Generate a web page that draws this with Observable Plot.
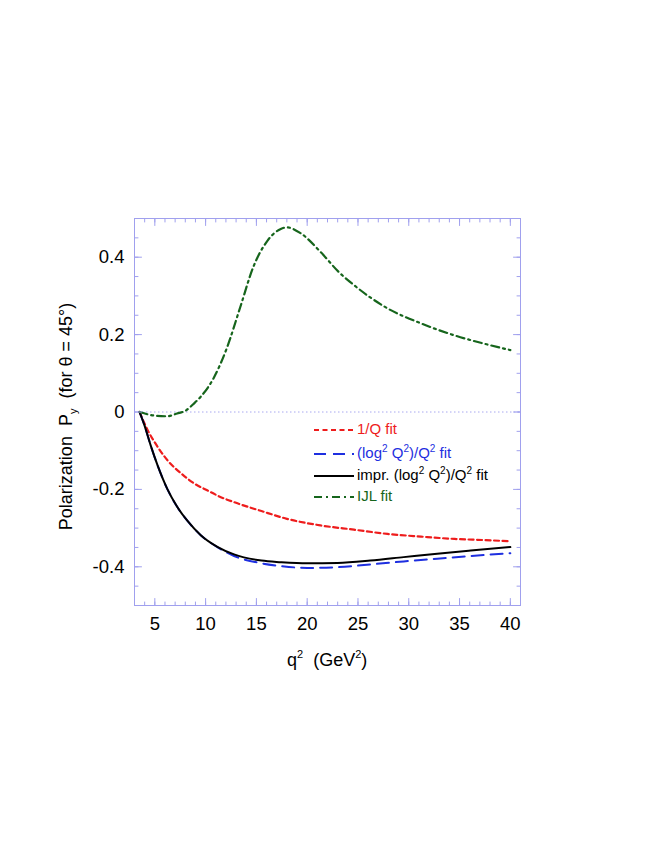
<!DOCTYPE html>
<html>
<head>
<meta charset="utf-8">
<script src="https://cdn.jsdelivr.net/npm/d3@7"></script>
<script src="https://cdn.jsdelivr.net/npm/@observablehq/plot@0.6"></script>
<style>
  html, body { margin: 0; padding: 0; background: #fff; }
  #wrap { position: relative; width: 654px; height: 846px; font-family: "Liberation Sans", Arial, sans-serif; }
  #wrap svg.plot { position: absolute; left: 0; top: 0; }
  .lab { position: absolute; color: #000; font-size: 18px; white-space: nowrap; }
  .lab sup { font-size: 11px; vertical-align: 8px; line-height: 0; }
  .lab sub { font-size: 11px; vertical-align: -5px; line-height: 0; }
  #legend { position: absolute; left: 313px; top: 419px; font-size: 15px; }
  #legend .row { position: absolute; left: 0; height: 20px; white-space: nowrap; }
  #legend svg { position: absolute; left: 0; top: 0; }
  #legend span { position: absolute; left: 44px; top: 1px; }
  #legend sup { font-size: 10px; vertical-align: 6px; line-height: 0; }
</style>
</head>
<body>
<div id="wrap"></div>
<script>
// ---- data ----
const qRed = [3.5, 4.3, 5.3, 6.25, 7.6, 8.9, 10.2, 11.5, 12.8, 15.5, 18, 21.3, 24.6, 27.9, 31.2, 34.5, 37.5, 40];
const pRed = [0, -0.047, -0.091, -0.125, -0.159, -0.185, -0.203, -0.220, -0.233, -0.256, -0.276, -0.293, -0.304, -0.315, -0.322, -0.328, -0.331, -0.334];

const qBlue = [3.5, 4.0, 4.6, 5.3, 6.25, 7.2, 8.2, 9.55, 11.2, 12.8, 15.5, 17.4, 20, 23, 26.2, 29.5, 32.8, 36.1, 40];
const pBlue = [0, -0.036, -0.087, -0.140, -0.200, -0.245, -0.281, -0.319, -0.350, -0.372, -0.391, -0.398, -0.403, -0.401, -0.394, -0.386, -0.379, -0.372, -0.365];

const qBlack = [3.5, 4.0, 4.6, 5.3, 6.25, 7.2, 8.2, 9.55, 11.2, 12.8, 15.5, 17.4, 20, 23, 26.2, 29.5, 32.8, 36.1, 40];
const pBlack = [0, -0.036, -0.087, -0.140, -0.200, -0.245, -0.281, -0.319, -0.349, -0.368, -0.384, -0.388, -0.391, -0.390, -0.384, -0.375, -0.366, -0.358, -0.349];

const qGreen = [3.5, 4.9, 6.2, 7.2, 8.0, 8.9, 9.5, 10.8, 12.1, 13.4, 14.7, 16.1, 17.4, 18.0, 19.3, 21.3, 23.1, 24.6, 27.9, 31.2, 34.5, 37.8, 40];
const pGreen = [0, -0.009, -0.011, -0.004, 0.003, 0.023, 0.039, 0.088, 0.166, 0.270, 0.375, 0.443, 0.473, 0.477, 0.463, 0.414, 0.362, 0.328, 0.268, 0.229, 0.198, 0.174, 0.160];

const xMajor = [5, 10, 15, 20, 25, 30, 35, 40];
const xMinor = d3.range(3, 42, 1);
const yMajor = [-0.4, -0.2, 0, 0.2, 0.4];
const yMinor = d3.range(-0.5, 0.5001, 0.05).map(v => +v.toFixed(2));

const series = [
  {name: "1/Q fit", q: qRed, p: pRed, color: "#ee1c1c", dash: "5,3.5", width: 2.2},
  {name: "(log² Q²)/Q² fit", q: qBlue, p: pBlue, color: "#1e2fe0", dash: "12,7", width: 2},
  {name: "impr. (log² Q²)/Q² fit", q: qBlack, p: pBlack, color: "#000000", dash: null, width: 2},
  {name: "IJL fit", q: qGreen, p: pGreen, color: "#16651c", dash: "8,4,2,4", width: 2.2}
];

// ---- chart ----
const frameColor = "#a0a0ee";
const tick = (len) => ({draw(ctx, l) { ctx.moveTo(0, 0); ctx.lineTo(0, -len); }});

const lineMarks = series.map(s => Plot.line(s.q.map((q, i) => ({q, p: s.p[i]})), {
  x: "q", y: "p", stroke: s.color, strokeWidth: s.width,
  strokeDasharray: s.dash || undefined, curve: "monotone-x"
}));

const tickMarks = [];
for (const [vals, len] of [[xMinor, 3.5], [xMajor, 7]]) {
  tickMarks.push(Plot.vector(vals, {x: d => d, frameAnchor: "bottom", rotate: 0, anchor: "start", length: len, shape: tick(len), stroke: frameColor, strokeWidth: 1}));
  tickMarks.push(Plot.vector(vals, {x: d => d, frameAnchor: "top", rotate: 180, anchor: "start", length: len, shape: tick(len), stroke: frameColor, strokeWidth: 1}));
}
for (const [vals, len] of [[yMinor, 3.5], [yMajor, 7]]) {
  tickMarks.push(Plot.vector(vals, {y: d => d, frameAnchor: "left", rotate: 90, anchor: "start", length: len, shape: tick(len), stroke: frameColor, strokeWidth: 1}));
  tickMarks.push(Plot.vector(vals, {y: d => d, frameAnchor: "right", rotate: 270, anchor: "start", length: len, shape: tick(len), stroke: frameColor, strokeWidth: 1}));
}

const chart = Plot.plot({
  width: 654,
  height: 846,
  marginLeft: 134,
  marginRight: 134,
  marginTop: 218,
  marginBottom: 241,
  style: {fontFamily: "Liberation Sans, Arial, sans-serif", background: "transparent"},
  x: {domain: [3, 41]},
  y: {domain: [-0.5, 0.5]},
  marks: [
    Plot.ruleY([0], {stroke: "#a8a8f0", strokeDasharray: "1.5,2.5", strokeWidth: 1}),
    ...lineMarks,
    Plot.frame({stroke: frameColor, strokeWidth: 1}),
    ...tickMarks,
    Plot.axisX(xMajor, {tickSize: 0, tickPadding: 11, fontSize: 18.5, label: null, fill: "#000"}),
    Plot.axisY(yMajor, {tickSize: 0, tickPadding: 10, fontSize: 18.5, label: null, fill: "#000",
      tickFormat: d => d === 0 ? "0" : d3.format(".1f")(d).replace("−", "-")})
  ]
});
chart.classList.add("plot");
const wrap = document.getElementById("wrap");
wrap.appendChild(chart);

// axis titles
const xl = document.createElement("div");
xl.className = "lab";
xl.innerHTML = "q<sup>2</sup>&nbsp;&nbsp;(GeV<sup>2</sup>)";
wrap.appendChild(xl);
xl.style.left = (327 - xl.offsetWidth / 2) + "px";
xl.style.top = "650px";

const yl = document.createElement("div");
yl.className = "lab";
yl.innerHTML = "Polarization&nbsp;&nbsp;P<sub>y</sub>&nbsp;&nbsp;(for &theta; = 45&deg;)";
wrap.appendChild(yl);
const w = yl.offsetWidth, h = yl.offsetHeight;
yl.style.left = (66 - w / 2) + "px";
yl.style.top = (416 - h / 2) + "px";
yl.style.transform = "rotate(-90deg)";

// legend
const leg = document.createElement("div");
leg.id = "legend";
const rowTops = [0, 24, 46, 67];
series.forEach((s, i) => {
  const row = document.createElement("div");
  row.className = "row";
  row.style.top = rowTops[i] + "px";
  const label = s.name.replace(/²/g, "<sup>2</sup>");
  row.innerHTML = `<svg width="42" height="20"><line x1="1" y1="11" x2="41" y2="11" stroke="${s.color}" stroke-width="${s.width}" ${s.dash ? `stroke-dasharray="${s.dash}"` : ""}/></svg><span style="color:${s.color === "#000000" ? "#000" : s.color}">${label}</span>`;
  leg.appendChild(row);
});
wrap.appendChild(leg);
</script>
</body>
</html>
